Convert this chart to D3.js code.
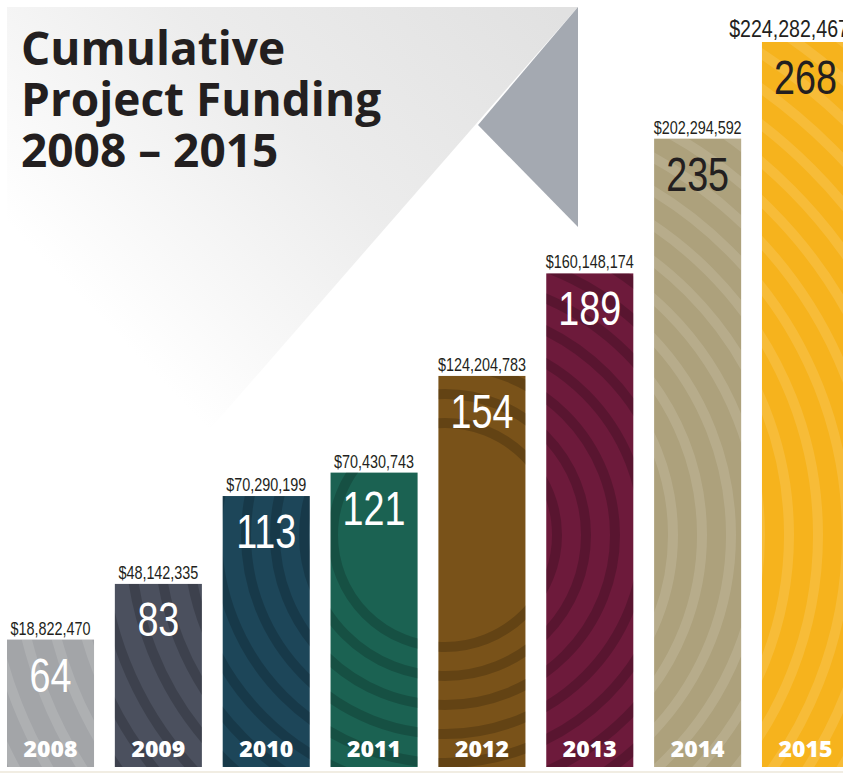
<!DOCTYPE html>
<html>
<head>
<meta charset="utf-8">
<script src="https://cdn.jsdelivr.net/npm/d3@7"></script>
<style>
  body { margin: 0; background: #ffffff; }
  svg { display: block; }
</style>
</head>
<body>
<div id="chart"></div>
<script>
// data
const years = ["2008", "2009", "2010", "2011", "2012", "2013", "2014", "2015"];
const projects = [64, 83, 113, 121, 154, 189, 235, 268];
const funding = [18822470, 48142335, 70290199, 70430743, 124204783, 160148174, 202294592, 224282467];
const titleLines = ["Cumulative", "Project Funding", "2008 \u2013 2015"];

// styling
const barColors = ["#a3a5a8", "#4b505e", "#1d4659", "#1b6252", "#795219", "#6d1a3b", "#ada17c", "#f6b31d"];
const numberInk = ["#ffffff", "#ffffff", "#ffffff", "#ffffff", "#ffffff", "#ffffff", "#231f20", "#231f20"];
const sans = "'Liberation Sans', Arial, sans-serif";

var width = 843,
    height = 777,
    baseline = 767;

var svg = d3
    .select("#chart")
    .append("svg")
    .attr("width", width)
    .attr("height", height);

var defs = svg.append("defs");

// big fading backdrop behind the title
var fade = defs
    .append("linearGradient")
    .attr("id", "fade")
    .attr("gradientUnits", "userSpaceOnUse")
    .attr("x1", 560).attr("y1", 10)
    .attr("x2", 170).attr("y2", 390);
fade.append("stop").attr("offset", 0).attr("stop-color", "#e1e1e1");
fade.append("stop").attr("offset", 0.5).attr("stop-color", "#ececec");
fade.append("stop").attr("offset", 1).attr("stop-color", "#ffffff");

svg.append("polygon")
    .attr("points", "7,7 578,7 7,662")
    .attr("fill", "url(#fade)");

svg.append("polygon")
    .attr("points", "578,7 578,227 478,125")
    .attr("fill", "#a4a9b1");

// title
svg.append("g")
    .selectAll("text")
    .data(titleLines)
    .join("text")
    .attr("x", 21)
    .attr("y", (d, i) => 65 + i * 51)
    .attr("font-family", "'Open Sans', 'Noto Sans', sans-serif")
    .attr("font-weight", 700)
    .attr("font-size", 46)
    .attr("fill", "#231f20")
    .text(d => d);

// scales
var x = d3
    .scaleBand()
    .domain(years)
    .range([7, 849])
    .paddingInner(0.193);

var y = d3
    .scaleLinear()
    .domain([20.5, 268])
    .range([baseline, 42]);

var fmt = d3.format("$,");

var rows = years.map((yr, i) => ({ year: yr, count: projects[i], money: funding[i], i: i }));
var last = years.length - 1;

// faint floor line
svg.append("line")
    .attr("x1", 0).attr("x2", width)
    .attr("y1", 772).attr("y2", 772)
    .attr("stroke", "#f1ede3")
    .attr("stroke-width", 2);

var bars = svg
    .selectAll(".bar")
    .data(rows)
    .join("g")
    .attr("class", "bar");

bars.append("clipPath")
    .attr("id", d => "clip" + d.i)
    .append("rect")
    .attr("x", d => x(d.year))
    .attr("y", d => y(d.count))
    .attr("width", x.bandwidth())
    .attr("height", d => baseline - y(d.count));

bars.append("rect")
    .attr("x", d => x(d.year))
    .attr("y", d => y(d.count))
    .attr("width", x.bandwidth())
    .attr("height", d => baseline - y(d.count))
    .attr("fill", d => barColors[d.i]);

// concentric ring texture running through all bars
var radii = d3.range(112, 1000, 29);
bars.append("g")
    .attr("clip-path", d => "url(#clip" + d.i + ")")
    .each(function (d) {
        var light = d3.hsl(barColors[d.i]).l > 0.5;
        d3.select(this)
            .selectAll("circle")
            .data(radii)
            .join("circle")
            .attr("cx", 445)
            .attr("cy", 535)
            .attr("r", r => r)
            .attr("fill", "none")
            .attr("stroke", light ? "#ffffff" : "#000000")
            .attr("stroke-opacity", light ? 0.12 : 0.18)
            .attr("stroke-width", 10);
    });

// funding above each bar (condensed by squeezing horizontally)
bars.append("text")
    .attr("transform", function (d) {
        var cx = d.i === last ? x(d.year) + x.bandwidth() : x(d.year) + x.bandwidth() / 2;
        return "translate(" + cx + "," + (y(d.count) - 5) + ") scale(0.8,1)";
    })
    .attr("text-anchor", d => d.i === last ? "end" : "middle")
    .attr("font-family", sans)
    .attr("font-size", d => d.i === last ? 24.5 : 18)
    .attr("fill", "#231f20")
    .text(d => fmt(d.money));

// project counts
bars.append("text")
    .attr("transform", d => "translate(" + (x(d.year) + x.bandwidth() / 2) + "," + (y(d.count) + 52) + ") scale(0.77,1)")
    .attr("text-anchor", "middle")
    .attr("font-family", sans)
    .attr("font-size", 49)
    .attr("fill", d => numberInk[d.i])
    .text(d => d.count);

// year labels
bars.append("text")
    .attr("x", d => x(d.year) + x.bandwidth() / 2)
    .attr("y", baseline - 10)
    .attr("text-anchor", "middle")
    .attr("font-family", "'Open Sans', 'Noto Sans', sans-serif")
    .attr("font-weight", 800)
    .attr("font-size", 23)
    .attr("fill", "#ffffff")
    .text(d => d.year);
</script>
</body>
</html>
